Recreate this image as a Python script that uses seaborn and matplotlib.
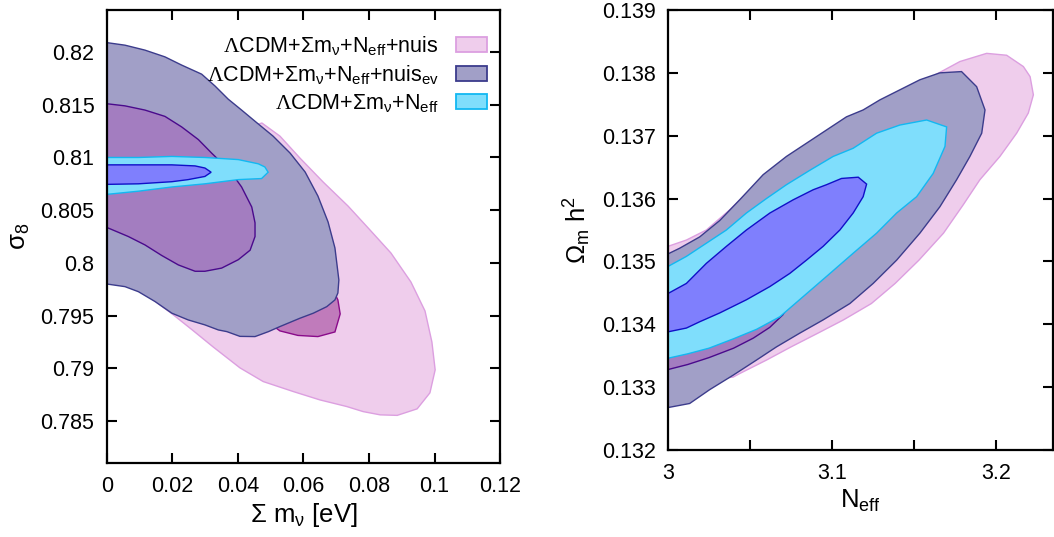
import matplotlib
matplotlib.use("Agg")
import matplotlib.pyplot as plt
import seaborn as sns
from matplotlib.patches import Patch
from matplotlib.ticker import FixedLocator

sns.set_theme(style="ticks")
plt.rcParams['font.family'] = ['Liberation Sans', 'DejaVu Sans']
plt.rcParams['mathtext.fontset'] = 'custom'
plt.rcParams['mathtext.rm'] = 'Liberation Serif'
plt.rcParams['mathtext.sf'] = 'Liberation Sans'
plt.rcParams['mathtext.it'] = 'Liberation Sans:italic'
for k in ['text.color', 'axes.labelcolor', 'xtick.color', 'ytick.color', 'axes.edgecolor']:
    plt.rcParams[k] = 'black'

# ---------------- legend / series names ----------------
series_labels = [
    r'$\mathrm{Λ}$CDM+Σm$_{\mathsf{ν}}$+N$_{\mathsf{eff}}$+nuis',
    r'$\mathrm{Λ}$CDM+Σm$_{\mathsf{ν}}$+N$_{\mathsf{eff}}$+nuis$_{\mathsf{ev}}$',
    r'$\mathrm{Λ}$CDM+Σm$_{\mathsf{ν}}$+N$_{\mathsf{eff}}$',
]

# ---------------- left panel: (sum m_nu, sigma_8) contours ----------------
L_nuis95_x = [0, 0.020, 0.035, 0.0455, 0.0473, 0.0528, 0.0589, 0.0660, 0.0736, 0.0803, 0.0867,
              0.0928, 0.0971, 0.0992, 0.1002, 0.0986, 0.0947, 0.0886, 0.0834, 0.0782, 0.0732,
              0.0650, 0.0569, 0.0477, 0.0406, 0.0324, 0.0260, 0.0199, 0.0162, 0.0101, 0.0040, 0]
L_nuis95_y = [0.8203, 0.8187, 0.8155, 0.8131, 0.81327, 0.81203, 0.80995, 0.80767, 0.80539, 0.80312,
              0.80093, 0.79818, 0.79543, 0.79249, 0.78984, 0.78766, 0.78614, 0.78552, 0.78557,
              0.78588, 0.78636, 0.78699, 0.78778, 0.78873, 0.79003, 0.79202, 0.79364, 0.79515,
              0.79600, 0.79743, 0.79810, 0.79819]

L_nuis68_x = [0.0482, 0.0528, 0.0583, 0.0644, 0.0696, 0.0712, 0.0705, 0.0690, 0.066, 0.058,
              0.045, 0.035, 0.015, 0, 0, 0.020, 0.040]
L_nuis68_y = [0.7946, 0.79354, 0.79311, 0.79300, 0.79344, 0.79515, 0.79648, 0.79743, 0.8000,
              0.8060, 0.8110, 0.8145, 0.8160, 0.8165, 0.8020, 0.7985, 0.7960]

L_ev95_x = [0, 0.0055, 0.0116, 0.0177, 0.0228, 0.0289, 0.0330, 0.0370, 0.0411, 0.0455, 0.0507,
            0.0559, 0.0605, 0.0644, 0.0675, 0.0696, 0.0708, 0.0705, 0.0696, 0.0671, 0.0630,
            0.0589, 0.0528, 0.0493, 0.0452, 0.0406, 0.0366, 0.0340, 0.0299, 0.0248, 0.0198,
            0.0147, 0.0096, 0.0055, 0.0004, 0]
L_ev95_y = [0.82090, 0.82066, 0.82019, 0.81955, 0.81877, 0.81791, 0.81678, 0.81554, 0.81450,
            0.81336, 0.81203, 0.81042, 0.80862, 0.80634, 0.80388, 0.80141, 0.79837, 0.79714,
            0.79648, 0.79584, 0.79522, 0.79474, 0.79395, 0.79347, 0.79300, 0.79302, 0.79347,
            0.79363, 0.79411, 0.79458, 0.79522, 0.79632, 0.79726, 0.79774, 0.79797, 0.79800]

L_ev68_x = [0, 0.0055, 0.0116, 0.0177, 0.0228, 0.0279, 0.0320, 0.0330, 0.0381, 0.0411, 0.0442,
            0.0452, 0.0452, 0.0437, 0.0401, 0.0350, 0.0299, 0.0269, 0.0218, 0.0167, 0.0116,
            0.0065, 0.0004, 0]
L_ev68_y = [0.8151, 0.8149, 0.8145, 0.8139, 0.8129, 0.8117, 0.8104, 0.8101, 0.8085, 0.8072,
            0.8053, 0.8038, 0.8025, 0.8012, 0.8003, 0.7995, 0.7992, 0.7992, 0.7998, 0.8007,
            0.8017, 0.8025, 0.8033, 0.8033]

L_base95_x = [0, 0.0096, 0.0198, 0.0299, 0.0401, 0.0462, 0.0482, 0.0492, 0.0472, 0.0401, 0.0299,
              0.0198, 0.0096, 0]
L_base95_y = [0.8100, 0.8100, 0.8101, 0.8100, 0.8098, 0.8094, 0.8091, 0.8086, 0.8080, 0.8079,
              0.8075, 0.8072, 0.8068, 0.8065]

L_base68_x = [0, 0.0096, 0.0198, 0.0269, 0.0299, 0.0318, 0.0299, 0.0248, 0.0198, 0.0096, 0.0004, 0]
L_base68_y = [0.8093, 0.8093, 0.8093, 0.8092, 0.8090, 0.8086, 0.8082, 0.8079, 0.8077, 0.8075,
              0.80745, 0.80745]

# ---------------- right panel: (N_eff, Omega_m h^2) contours ----------------
R_nuis95_x = [3.0, 3.0112, 3.0234, 3.0376, 3.0519, 3.060, 3.100, 3.150, 3.1617, 3.1780, 3.1943,
              3.2065, 3.2167, 3.2208, 3.2228, 3.2197, 3.2126, 3.2024, 3.1902, 3.1800, 3.1680,
              3.1530, 3.1385, 3.1240, 3.1070, 3.0915, 3.0750, 3.0600, 3.0440, 3.0397, 3.020, 3.0]
R_nuis95_y = [0.13524, 0.13534, 0.13550, 0.13582, 0.13619, 0.1363, 0.1368, 0.1377, 0.13795,
              0.13818, 0.13831, 0.13828, 0.13810, 0.13794, 0.13765, 0.13736, 0.13704, 0.13667,
              0.13630, 0.13590, 0.13545, 0.13502, 0.13465, 0.13433, 0.13407, 0.13386, 0.13364,
              0.13343, 0.13322, 0.13316, 0.1331, 0.1330]

R_ev95_x = [3.0, 3.0071, 3.0193, 3.0315, 3.0437, 3.0580, 3.0722, 3.0844, 3.0966, 3.1088, 3.1190,
            3.1292, 3.1414, 3.1536, 3.1658, 3.1790, 3.1882, 3.1933, 3.1913, 3.1841, 3.1760,
            3.1658, 3.1536, 3.1394, 3.1251, 3.1109, 3.0946, 3.0804, 3.0661, 3.0539, 3.0397,
            3.0254, 3.0132, 3.0010, 3.0]
R_ev95_y = [0.13512, 0.13521, 0.13539, 0.13565, 0.13598, 0.13638, 0.13667, 0.13688, 0.13709,
            0.13730, 0.13741, 0.13757, 0.13773, 0.13789, 0.13800, 0.13802, 0.13778, 0.13741,
            0.13704, 0.13667, 0.13630, 0.13587, 0.13545, 0.13502, 0.13465, 0.13433, 0.13407,
            0.13386, 0.13364, 0.13343, 0.13319, 0.13296, 0.13274, 0.13268, 0.13268]

R_ev68_x = [3.0, 3.012, 3.025, 3.040, 3.052, 3.062, 3.070, 3.090, 3.100, 3.080, 3.050, 3.020, 3.0]
R_ev68_y = [0.13328, 0.13336, 0.13347, 0.13362, 0.13378, 0.13395, 0.13415, 0.1350, 0.1358,
            0.1362, 0.1355, 0.1350, 0.1347]

R_base95_x = [3.0, 3.0112, 3.0234, 3.0356, 3.0478, 3.0600, 3.0722, 3.0865, 3.1007, 3.1129, 3.1272,
              3.1414, 3.1577, 3.1699, 3.1689, 3.1617, 3.1516, 3.1394, 3.1272, 3.1129, 3.0966,
              3.0824, 3.0682, 3.054, 3.040, 3.025, 3.012, 3.0]
R_base95_y = [0.13492, 0.13508, 0.13529, 0.13550, 0.13577, 0.13600, 0.13622, 0.13645, 0.13667,
              0.13680, 0.13704, 0.13717, 0.13725, 0.13714, 0.13683, 0.13640, 0.13603, 0.13577,
              0.13545, 0.13513, 0.13476, 0.13444, 0.13412, 0.13392, 0.13377, 0.13362, 0.13353,
              0.13346]

R_base68_x = [3.0, 3.0112, 3.0234, 3.0356, 3.0478, 3.0621, 3.0763, 3.0885, 3.0966, 3.1058, 3.1160,
              3.1211, 3.1190, 3.1129, 3.1048, 3.0946, 3.0844, 3.0743, 3.0621, 3.0478, 3.0315,
              3.0193, 3.0112, 3.0]
R_base68_y = [0.13449, 0.13465, 0.13497, 0.13524, 0.13550, 0.13577, 0.13598, 0.13614, 0.13622,
              0.13632, 0.13634, 0.13623, 0.13603, 0.13577, 0.13550, 0.13524, 0.13502, 0.13481,
              0.13460, 0.13439, 0.13418, 0.13404, 0.13394, 0.13388]

# ---------------- ticks ----------------
L_xticks = [0, 0.02, 0.04, 0.06, 0.08, 0.1, 0.12]
L_xticklabels = ['0', '0.02', '0.04', '0.06', '0.08', '0.1', '0.12']
L_yticks = [0.785, 0.79, 0.795, 0.8, 0.805, 0.81, 0.815, 0.82]
L_yticklabels = ['0.785', '0.79', '0.795', '0.8', '0.805', '0.81', '0.815', '0.82']
R_xticks = [3.0, 3.1, 3.2]
R_xticklabels = ['3', '3.1', '3.2']
R_xminor = [3.05, 3.15]
R_yticks = [0.132, 0.133, 0.134, 0.135, 0.136, 0.137, 0.138, 0.139]
R_yticklabels = ['0.132', '0.133', '0.134', '0.135', '0.136', '0.137', '0.138', '0.139']

# ---------------- styles ----------------
c_nuis95 = ('#efcdec', '#dc9fe0')
c_nuis68 = ('#c07bbb', '#8a0a8a')
c_ev95 = ('#a19fc7', '#3c3c8c')
c_ev68 = ('#a37dc0', '#4a0a8c')
c_base95 = ('#7fdefc', '#12b8f2')
c_base68 = ('#7f7ffd', '#1010c8')

fig = plt.figure(figsize=(10.54, 5.37), dpi=100)
axL = fig.add_axes([0.1015, 0.1378, 0.3729, 0.8436])
axR = fig.add_axes([0.6338, 0.1620, 0.3653, 0.8194])

def poly(ax, x, y, col):
    ax.fill(x, y, facecolor=col[0], edgecolor=col[1], lw=1.0, zorder=1)

poly(axL, L_nuis95_x, L_nuis95_y, c_nuis95)
poly(axL, L_nuis68_x, L_nuis68_y, c_nuis68)
poly(axL, L_ev95_x, L_ev95_y, c_ev95)
poly(axL, L_ev68_x, L_ev68_y, c_ev68)
poly(axL, L_base95_x, L_base95_y, c_base95)
poly(axL, L_base68_x, L_base68_y, c_base68)

poly(axR, R_nuis95_x, R_nuis95_y, c_nuis95)
poly(axR, R_ev95_x, R_ev95_y, c_ev95)
poly(axR, R_ev68_x, R_ev68_y, c_ev68)
poly(axR, R_base95_x, R_base95_y, c_base95)
poly(axR, R_base68_x, R_base68_y, c_base68)

fs = 15.5
fl = 18.5
axL.set_xlim(0, 0.12)
axL.set_ylim(0.7810, 0.8240)
axL.set_xticks(L_xticks, L_xticklabels)
axL.set_yticks(L_yticks, L_yticklabels)
axL.set_xlabel(r'Σ m$_{\mathsf{ν}}$ [eV]', fontsize=fl, labelpad=3)
axL.set_ylabel(r'σ$_{\mathsf{8}}$', fontsize=fl, labelpad=6)

axR.set_xlim(3.0, 3.2348)
axR.set_ylim(0.132, 0.139)
axR.set_xticks(R_xticks, R_xticklabels)
axR.xaxis.set_minor_locator(FixedLocator(R_xminor))
axR.set_yticks(R_yticks, R_yticklabels)
axR.set_xlabel(r'N$_{\mathsf{eff}}$', fontsize=fl, labelpad=3)
axR.set_ylabel(r'Ω$_{\mathsf{m}}$ h$^{\mathsf{2}}$', fontsize=fl, labelpad=6)

for ax in (axL, axR):
    for sp in ax.spines.values():
        sp.set_visible(True)
        sp.set_linewidth(1.6)
        sp.set_color('black')
        sp.set_zorder(5)
    ax.tick_params(which='both', direction='in', length=7, width=1.5, top=True, right=True,
                   labelsize=fs, pad=9, colors='black')

handles = [Patch(facecolor=c[0], edgecolor=c[1], lw=1.3) for c in (c_nuis95, c_ev95, c_base95)]
axL.legend(handles, series_labels, loc='upper right', bbox_to_anchor=(0.968, 0.946),
           frameon=False, markerfirst=False, fontsize=fs, handlelength=1.45, handleheight=0.7,
           handletextpad=0.8, labelspacing=0.25, borderaxespad=0, borderpad=0)

fig.savefig('out.png', dpi=100)
